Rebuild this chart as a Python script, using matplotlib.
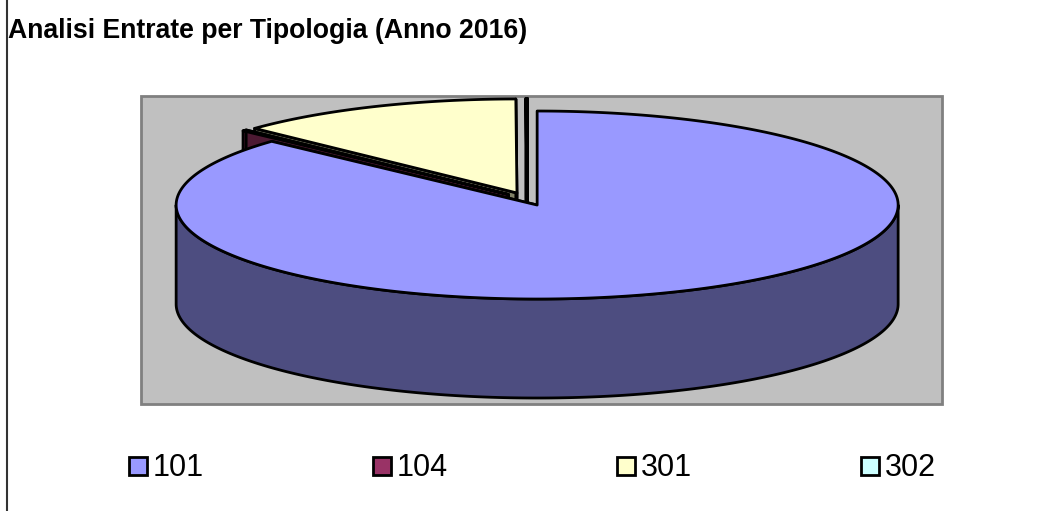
import numpy as np
import matplotlib
matplotlib.use('Agg')
import matplotlib.pyplot as plt
from matplotlib.patches import Rectangle, Polygon

# values (percent share)
labels = ['101', '104', '301', '302']
values = [86.85, 0.2, 12.9, 0.05]
colors = ['#9999FF', '#993366', '#FFFFCC', '#CCFFFF']
walls = ['#4D4D80', '#4D1A33', '#808066', '#668080']
legend_x = [129, 373, 617, 861]

title = 'Analisi Entrate per Tipologia (Anno 2016)'

# pie geometry, in pixels
cx, cy = 527, 199
rx, ry = 361, 94
depth = 99
explode = 0.07

plt.rcParams['font.family'] = ['Liberation Sans', 'DejaVu Sans']
fig = plt.figure(figsize=(10.45, 5.11), dpi=100)
ax = fig.add_axes([0, 0, 1, 1])
ax.set_xlim(0, 1045)
ax.set_ylim(511, 0)
ax.axis('off')


def rim(center, a, b):
    t = np.radians(np.linspace(a, b, max(int(abs(b - a) * 2), 2)))
    return np.column_stack([center[0] + rx * np.sin(t), center[1] - ry * np.cos(t)])


def draw_slice(a, b, col, wall, z):
    mid = np.radians((a + b) / 2)
    c = (cx + explode * rx * np.sin(mid), cy - explode * ry * np.cos(mid))
    drop = np.array([0, depth])
    kw = dict(ec='black', lw=2, joinstyle='round', zorder=z)
    # cut faces
    for ang in (a, b):
        p = rim(c, ang, ang + 0.01)[0]
        ax.add_patch(Polygon([c, p, p + drop, np.array(c) + drop], fc=wall, **kw))
    # outer wall, front half only
    lo, hi = max(a, 90), min(b, 270)
    if lo < hi:
        edge = rim(c, lo, hi)
        ax.add_patch(Polygon(np.vstack([edge, (edge + drop)[::-1]]), fc=wall, **kw))
    ax.add_patch(Polygon(np.vstack([[c], rim(c, a, b)]), fc=col, **kw))


# left edge of the chart frame
ax.plot([7, 7], [0, 511], color='#333333', lw=1.5)
ax.text(8, 31, title, fontsize=19.2, fontweight='bold', va='center', ha='left')

# plot area
ax.add_patch(Rectangle((141, 96), 801, 308, fc='#C0C0C0', ec='#808080', lw=2, zorder=1))

# angles run clockwise from 12 o'clock
ends = np.cumsum(values) / np.sum(values) * 360
starts = np.concatenate([[0], ends[:-1]])
# back slices first, biggest one on top
for i in [3, 2, 1, 0]:
    draw_slice(starts[i], ends[i], colors[i], walls[i], 5 - i + 1)

for x, lab, col in zip(legend_x, labels, colors):
    ax.add_patch(Rectangle((x, 457), 18, 18, fc=col, ec='black', lw=2, zorder=3))
    ax.text(x + 24, 468, lab, fontsize=22, va='center', ha='left')

fig.savefig('out.png', dpi=100)
